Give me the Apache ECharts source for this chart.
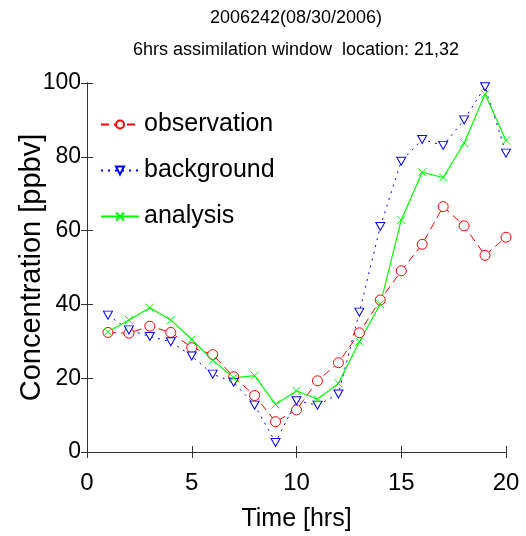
<!DOCTYPE html>
<html><head><meta charset="utf-8">
<script src="https://cdn.jsdelivr.net/npm/echarts@6/dist/echarts.min.js"></script>
<style>html,body{margin:0;padding:0;background:#fff}#c{width:526px;height:536px}</style>
</head><body><div id="c"></div>
<script>
const hours = [1,2,3,4,5,6,7,8,9,10,11,12,13,14,15,16,17,18,19,20];
const observation = [32.4,32.2,34.1,32.4,28.3,26.4,20.4,15.3,8.2,11.4,19.3,24.2,32.3,41.2,49.1,56.3,66.5,61.3,53.3,58.2];
const background = [37.1,33.1,31.3,29.9,26.0,21.1,18.9,12.7,2.6,13.9,12.7,15.7,37.9,61.1,78.8,84.7,83.1,90.0,99.0,81.0];
const analysis = [32.6,35.8,39.1,35.8,30.5,24.9,20.1,20.7,12.9,16.6,14.3,18.6,29.9,40.1,62.9,75.8,74.4,83.7,97.0,84.4];
const xTicks = {min:0, max:20, interval:5};
const yTicks = {min:0, max:100, interval:20};

const font = 'Liberation Sans, Arial, sans-serif';
const pair = (arr) => hours.map((h,i)=>[h,arr[i]]);
const chart = echarts.init(document.getElementById('c'), null, {renderer:'canvas'});
const axisLine = {show:true, lineStyle:{color:'#333', width:1}};
chart.setOption({
  animation:false,
  backgroundColor:'#fff',
  title:{
    text:'2006242(08/30/2006)\n6hrs assimilation window  location: 21,32',
    left:296, top:0, padding:[2,0,0,0], textAlign:'center',
    textStyle:{fontFamily:font, fontSize:18, fontWeight:'normal', color:'#000', lineHeight:32}
  },
  legend:{
    orient:'vertical', left:100, top:112, padding:0, itemGap:21, itemWidth:38, itemHeight:10,
    textStyle:{fontFamily:font, fontSize:25, color:'#000'},
    data:['observation','background','analysis']
  },
  grid:{left:87, right:20, top:83, bottom:84, containLabel:false, outerBoundsMode:'none'},
  xAxis:[
    {type:'value', min:xTicks.min, max:xTicks.max, interval:xTicks.interval,
     name:'Time [hrs]', nameLocation:'middle', nameGap:55, nameMoveOverlap:false,
     nameTextStyle:{fontFamily:font, fontSize:25, color:'#000'},
     axisLine:axisLine, axisTick:{show:true, inside:true, length:6, lineStyle:{color:'#333'}},
     axisLabel:{fontFamily:font, fontSize:24, color:'#000', margin:19},
     splitLine:{show:false}},
    {type:'value', position:'top', min:xTicks.min, max:xTicks.max, interval:xTicks.interval,
     axisLine:axisLine, axisTick:{show:true, inside:true, length:6, lineStyle:{color:'#333'}},
     axisLabel:{show:false}, splitLine:{show:false}}
  ],
  yAxis:[
    {type:'value', min:yTicks.min, max:yTicks.max, interval:yTicks.interval,
     name:'Concentration [ppbv]', nameLocation:'middle', nameGap:41, nameMoveOverlap:false,
     nameTextStyle:{fontFamily:font, fontSize:29, color:'#000'},
     axisLine:axisLine, axisTick:{show:true, inside:true, length:6, lineStyle:{color:'#333'}},
     axisLabel:{fontFamily:font, fontSize:23, color:'#000', margin:6},
     splitLine:{show:false}},
    {type:'value', position:'right', min:yTicks.min, max:yTicks.max, interval:yTicks.interval,
     axisLine:axisLine, axisTick:{show:true, inside:true, length:6, lineStyle:{color:'#333'}},
     axisLabel:{show:false}, splitLine:{show:false}}
  ],
  series:[
    {name:'observation', type:'line', data:pair(observation), color:'#ff0000',
     symbol:'circle', symbolSize:10,
     itemStyle:{color:'#fff', borderColor:'#ff0000', borderWidth:1},
     lineStyle:{color:'#ff0000', width:1, type:[8,5]}},
    {name:'background', type:'line', data:pair(background), color:'#0000ff',
     symbol:'path://M0,0L10,0L5,9Z', symbolSize:[9,8],
     itemStyle:{color:'#fff', borderColor:'#0000ff', borderWidth:1},
     lineStyle:{color:'#0000ff', width:1, type:[2,5]}},
    {name:'analysis', type:'line', data:pair(analysis), color:'#00ff00',
     symbol:'path://M0,0L10,10M10,0L0,10', symbolSize:8,
     itemStyle:{color:'none', borderColor:'#00ff00', borderWidth:1},
     lineStyle:{color:'#00ff00', width:1.2, type:'solid'}}
  ]
});
</script></body></html>
